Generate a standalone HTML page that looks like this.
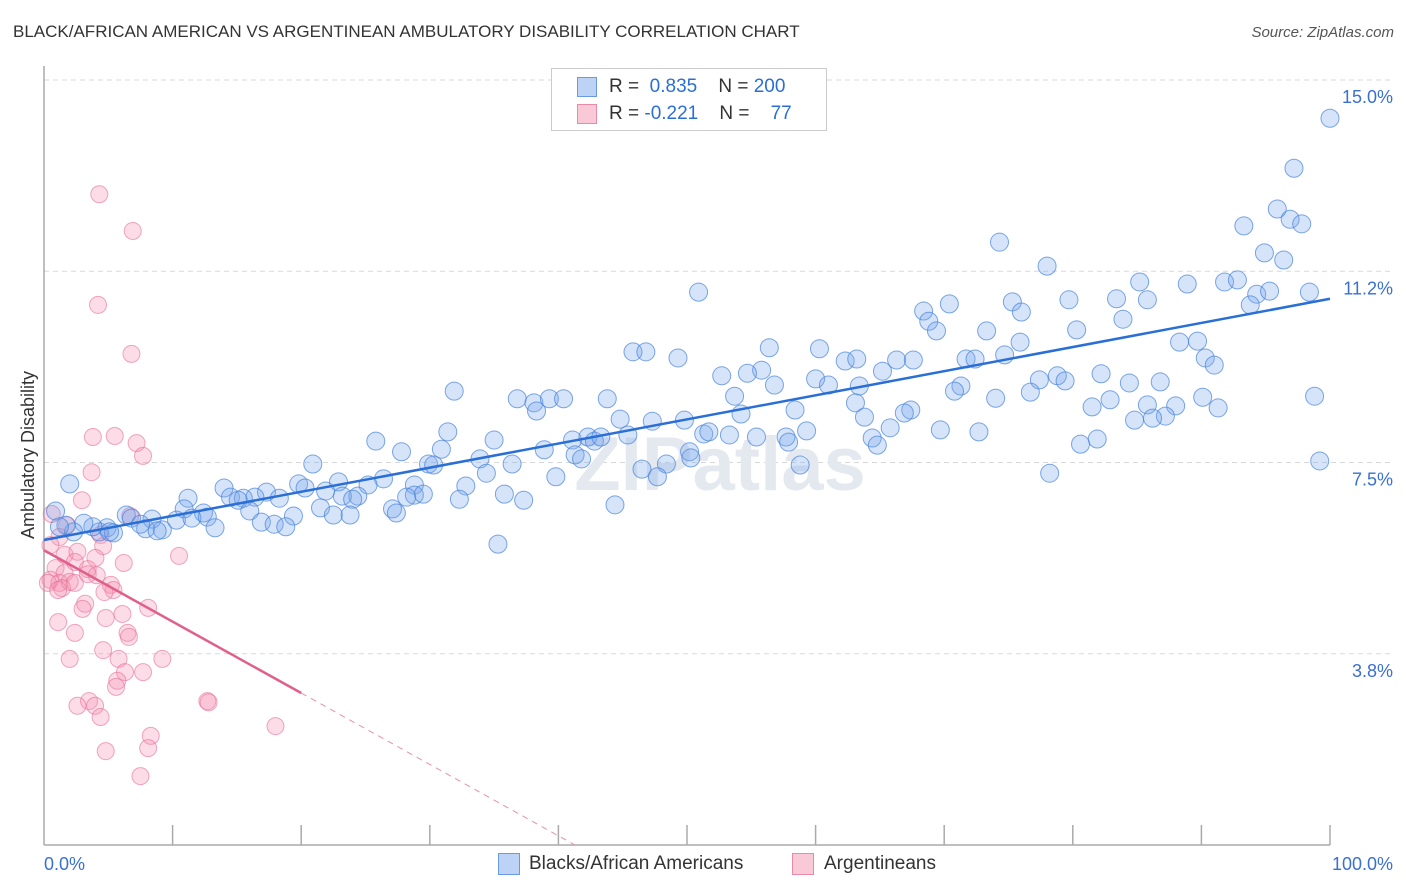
<!DOCTYPE html>
<html><head><meta charset="utf-8">
<style>
body{margin:0;background:#fff;font-family:"Liberation Sans",sans-serif;}
#wrap{position:relative;width:1406px;height:892px;overflow:hidden;}
.t{position:absolute;white-space:nowrap;}
</style></head>
<body>
<div id="wrap">
<div class="t" style="left:13px;top:22px;font-size:17px;color:#333;">BLACK/AFRICAN AMERICAN VS ARGENTINEAN AMBULATORY DISABILITY CORRELATION CHART</div>
<div class="t" style="right:12px;top:24px;font-size:15px;color:#555;font-style:italic;">Source: ZipAtlas.com</div>
<svg id="svg" width="1406" height="892" style="position:absolute;left:0;top:0"></svg>
</div>
<script>
const yTicks=[15.0,11.25,7.5,3.75];
const yTickLabels=["15.0%","11.2%","7.5%","3.8%"];
const xTickLabels=["0.0%","100.0%"];
const blueX=[100,97.2,95.9,96.9,97.8,93.3,94.9,96.4,74.3,78.0,85.2,88.9,91.8,92.8,94.3,95.3,98.4,93.8,50.9,75.3,79.7,83.4,85.8,68.4,70.4,68.8,69.4,76.0,83.9,73.3,80.3,88.3,89.7,75.9,74.7,45.8,46.8,49.3,56.4,60.3,62.3,63.2,66.3,67.6,71.7,72.4,90.3,91.0,65.2,55.8,52.7,54.7,60.0,61.0,56.8,63.4,78.8,79.4,77.4,82.2,86.8,84.4,71.3,70.8,76.7,53.7,63.1,67.4,66.9,74.0,82.9,81.5,85.8,88.0,90.1,91.3,87.2,84.8,86.2,98.8,31.9,36.8,38.1,39.3,40.4,38.3,43.8,44.8,47.3,49.8,54.2,58.4,63.8,65.8,31.4,25.8,35.0,38.9,30.9,27.8,41.1,42.3,42.8,43.3,45.4,51.3,51.7,53.3,55.4,57.7,57.9,59.3,64.4,64.8,69.7,72.7,80.6,81.9,99.2,78.2,50.2,50.3,41.3,41.8,33.9,36.4,29.9,30.3,20.9,46.5,48.4,47.7,58.8,34.4,39.8,26.4,22.9,19.8,20.3,17.3,25.2,28.8,14.0,32.8,28.8,29.5,28.2,24.4,23.2,21.9,24.0,32.3,35.8,37.3,11.2,14.5,15.5,16.4,18.3,15.1,10.9,12.4,16.0,21.5,27.1,27.4,22.5,23.8,19.4,44.4,2.0,0.9,6.4,6.8,8.4,10.3,11.5,12.7,16.9,17.9,18.8,13.3,7.9,9.2,7.5,4.3,4.9,5.4,3.8,3.1,1.7,2.3,1.2,8.8,35.3,5.1];
const blueY=[14.25,13.27,12.47,12.27,12.18,12.14,11.61,11.47,11.82,11.35,11.04,11.0,11.04,11.08,10.80,10.86,10.84,10.59,10.84,10.65,10.69,10.71,10.69,10.47,10.61,10.27,10.08,10.45,10.31,10.08,10.10,9.86,9.88,9.86,9.61,9.67,9.67,9.55,9.75,9.73,9.49,9.53,9.51,9.51,9.53,9.53,9.55,9.41,9.29,9.31,9.20,9.25,9.14,9.02,9.02,9.0,9.20,9.10,9.12,9.24,9.08,9.06,9.0,8.90,8.88,8.80,8.67,8.53,8.47,8.76,8.73,8.59,8.63,8.61,8.78,8.57,8.41,8.33,8.37,8.80,8.90,8.75,8.67,8.75,8.75,8.51,8.75,8.35,8.31,8.33,8.45,8.53,8.39,8.18,8.10,7.92,7.94,7.75,7.76,7.71,7.94,8.0,7.92,8.0,8.04,8.06,8.10,8.04,8.0,8.0,7.90,8.12,7.98,7.84,8.14,8.10,7.86,7.96,7.53,7.29,7.71,7.59,7.65,7.57,7.57,7.47,7.47,7.45,7.47,7.37,7.47,7.22,7.45,7.29,7.22,7.18,7.12,7.08,7.0,6.92,7.06,7.06,7.0,7.04,6.86,6.88,6.82,6.84,6.84,6.94,6.78,6.78,6.88,6.76,6.80,6.82,6.80,6.82,6.80,6.76,6.59,6.51,6.55,6.61,6.59,6.51,6.47,6.47,6.45,6.67,7.08,6.55,6.47,6.41,6.39,6.37,6.41,6.43,6.33,6.29,6.24,6.22,6.20,6.18,6.29,6.14,6.22,6.12,6.24,6.31,6.27,6.14,6.24,6.16,5.90,6.14];
const pinkX=[4.3,6.9,4.2,6.8,3.8,5.5,7.2,7.7,3.7,2.95,0.6,1.8,6.7,4.4,4.6,1.2,0.5,1.6,2.6,4.0,2.4,0.9,1.6,3.4,4.1,6.2,10.5,0.5,1.2,2.0,1.4,2.4,3.4,5.2,5.4,3.2,3.0,8.1,6.1,1.1,4.8,2.4,6.5,6.6,4.6,5.8,9.2,2.0,7.7,6.3,5.7,5.6,12.7,12.8,3.5,2.6,3.97,4.4,18.0,4.8,8.3,8.1,7.5,0.3,1.1,4.7];
const pinkY=[12.76,12.04,10.59,9.63,8.0,8.02,7.88,7.63,7.31,6.76,6.49,6.27,6.45,6.08,5.86,6.04,5.88,5.69,5.75,5.63,5.55,5.43,5.33,5.41,5.29,5.53,5.67,5.20,5.14,5.16,5.04,5.14,5.31,5.10,5.0,4.73,4.63,4.65,4.53,4.37,4.45,4.16,4.16,4.08,3.82,3.65,3.65,3.65,3.39,3.39,3.22,3.10,2.82,2.80,2.82,2.73,2.73,2.51,2.33,1.84,2.14,1.90,1.35,5.14,5.0,4.96];
const blueTrend=[5.98,10.71];   // value at x=0, x=100
const pinkTrend=[5.78,-0.14];   // intercept, slope per %
const pinkSolidEnd=20;

const svg=document.getElementById('svg');
const NS='http://www.w3.org/2000/svg';
const X0=44,X1=1330,Ytop=80,Ybot=845;
const xs=v=>X0+v*(X1-X0)/100;
const ys=v=>Ytop+(15-v)*(Ybot-Ytop)/15;
function mk(tag,attrs){const e=document.createElementNS(NS,tag);for(const k in attrs)e.setAttribute(k,attrs[k]);svg.appendChild(e);return e;}

yTicks.forEach((v,i)=>{
 const g=mk('line',{x1:X0,x2:1392,y1:ys(v),y2:ys(v),stroke:'#d8d8d8','stroke-dasharray':'5,4'});
 
 
 const t=mk('text',{x:1393,y:ys(v)+23,'text-anchor':'end','font-size':18,fill:'#3a70d0','font-family':'Liberation Sans'});
 t.textContent=yTickLabels[i];
 
 
});
const ax=mk('line',{x1:X0,x2:X0,y1:66,y2:Ybot,stroke:'#aaa','stroke-width':1.5});


const bx=mk('line',{x1:X0,x2:X1,y1:Ybot,y2:Ybot,stroke:'#aaa','stroke-width':1.5});


for(let i=1;i<=10;i++){const tk=mk('line',{x1:xs(i*10),x2:xs(i*10),y1:Ybot-20,y2:Ybot,stroke:'#aaa','stroke-width':1.5});
 
 }
const xl0=mk('text',{x:44,y:870,'font-size':18,fill:'#3a70d0','font-family':'Liberation Sans'});xl0.textContent=xTickLabels[0];


const xl1=mk('text',{x:1393,y:870,'text-anchor':'end','font-size':18,fill:'#3a70d0','font-family':'Liberation Sans'});xl1.textContent=xTickLabels[1];


const yt=mk('text',{x:34,y:455,'text-anchor':'middle','font-size':18,fill:'#333','font-family':'Liberation Sans',transform:'rotate(-90 34 455)'});yt.textContent='Ambulatory Disability';


const wm=mk('text',{x:720,y:490,'text-anchor':'middle','font-size':76,fill:'#e4e9f0','font-family':'Liberation Sans','font-weight':'bold'});wm.textContent='ZIPatlas';



pinkX.forEach((x,i)=>{const c=mk('circle',{cx:xs(x),cy:ys(pinkY[i]),r:8.5,fill:'rgba(244,143,177,0.3)',stroke:'rgba(232,110,150,0.6)','stroke-width':1});
 
 });
blueX.forEach((x,i)=>{const c=mk('circle',{cx:xs(x),cy:ys(blueY[i]),r:9,fill:'rgba(120,165,235,0.3)',stroke:'rgba(70,130,220,0.7)','stroke-width':1});
 
 });

const bl=mk('line',{x1:xs(0),y1:ys(blueTrend[0]),x2:xs(100),y2:ys(blueTrend[1]),stroke:'#2a6fd6','stroke-width':2.5});


const pEnd=-pinkTrend[0]/pinkTrend[1];
const pl=mk('line',{x1:xs(0),y1:ys(pinkTrend[0]),x2:xs(pinkSolidEnd),y2:ys(pinkTrend[0]+pinkTrend[1]*pinkSolidEnd),stroke:'#e0608a','stroke-width':2.5});


const pd=mk('line',{x1:xs(pinkSolidEnd),y1:ys(pinkTrend[0]+pinkTrend[1]*pinkSolidEnd),x2:xs(pEnd),y2:ys(0),stroke:'#e890aa','stroke-width':1,'stroke-dasharray':'6,5'});


</script>
<div class="t" style="left:551px;top:68px;width:274px;height:61px;border:1px solid #ccc;background:#fff;">
 <div style="position:absolute;left:25px;top:8px;width:18px;height:18px;background:#bcd3f5;border:1px solid #6a9be0;"></div>
 <div style="position:absolute;left:57px;top:7px;font-size:19px;color:#333;">R = &nbsp;<span style="color:#2a6fd6">0.835</span>&nbsp;&nbsp;&nbsp; N = <span style="color:#2a6fd6">200</span></div>
 <div style="position:absolute;left:25px;top:35px;width:18px;height:18px;background:#f9c9d8;border:1px solid #e88aa8;"></div>
 <div style="position:absolute;left:57px;top:34px;font-size:19px;color:#333;">R = <span style="color:#2a6fd6">-0.221</span>&nbsp;&nbsp;&nbsp; N = &nbsp;&nbsp;&nbsp;<span style="color:#2a6fd6">77</span></div>
</div>
<div class="t" style="left:498px;top:853px;width:20px;height:20px;background:#bcd3f5;border:1px solid #6a9be0;"></div>
<div class="t" style="left:529px;top:853px;font-size:19px;color:#333;">Blacks/African Americans</div>
<div class="t" style="left:792px;top:853px;width:20px;height:20px;background:#f9c9d8;border:1px solid #e88aa8;"></div>
<div class="t" style="left:824px;top:853px;font-size:19px;color:#333;">Argentineans</div>
</body></html>
